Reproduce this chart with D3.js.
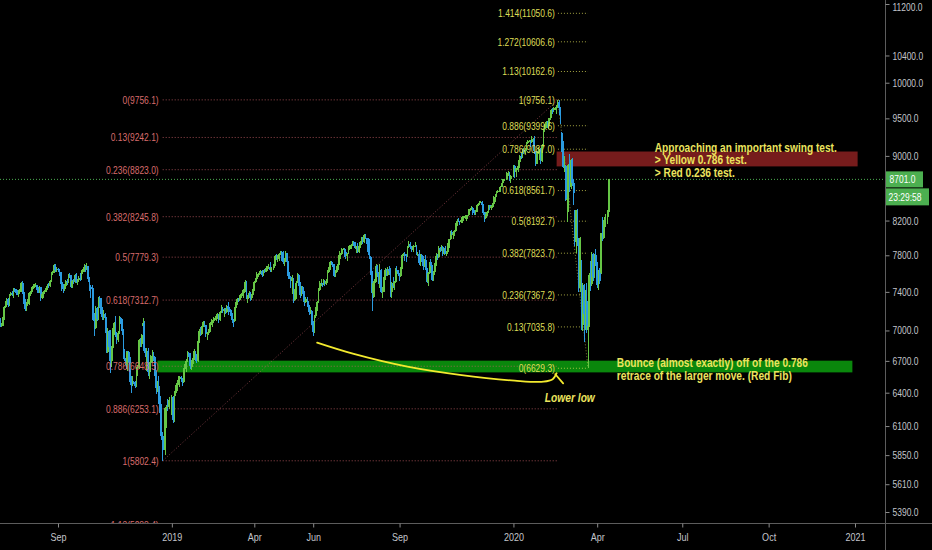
<!DOCTYPE html>
<html><head><meta charset="utf-8">
<script src="https://cdn.jsdelivr.net/npm/d3@7/dist/d3.min.js"></script>
<style>
html,body{margin:0;padding:0;background:#000;overflow:hidden}
svg{display:block}
text{font-family:'Liberation Sans',Arial,sans-serif}
</style></head><body>
<svg id="chart" width="932" height="550"></svg>
<script>
// ---------------- DATA ----------------
const firstDay = "2018-07-02";      // first weekday bar
const lastAxisDay = "2021-01-31";   // time axis extends into the future
// daily bars [open, high, low, close], one per weekday; null = market closed
const candles = [
// 2018-07
[7040,7100,7000,7090],[7090,7130,7040,7050],[7050,7080,7040,7070],[7070,7150,7050,7140],[7140,7250,7110,7240],
[7240,7300,7230,7290],[7290,7330,7280,7320],[7320,7330,7240,7260],[7260,7380,7250,7370],[7370,7400,7360,7390],
[7390,7410,7360,7380],[7380,7440,7330,7430],[7430,7440,7400,7420],[7420,7430,7370,7390],[7390,7420,7370,7380],
[7380,7420,7350,7410],[7410,7470,7400,7430],[7430,7510,7400,7500],[7500,7520,7380,7400],[7400,7420,7270,7300],
[7300,7320,7200,7220],[7220,7290,7200,7270],
// 2018-08
[7270,7320,7250,7300],[7300,7400,7260,7390],[7390,7410,7360,7400],
[7400,7450,7380,7440],[7440,7480,7430,7460],[7460,7480,7440,7460],[7460,7490,7450,7470],[7470,7470,7390,7420],
[7420,7450,7390,7400],[7400,7460,7390,7450],[7450,7450,7300,7330],[7330,7400,7320,7380],[7380,7410,7340,7400],
[7400,7420,7380,7410],[7410,7460,7400,7440],[7440,7480,7420,7470],[7470,7490,7440,7460],[7460,7530,7450,7520],
[7520,7610,7510,7600],[7600,7630,7580,7610],[7610,7700,7600,7690],[7690,7700,7620,7640],[7640,7670,7610,7650],
// 2018-09
[7650,7660,7630,7640],[7640,7650,7570,7610],[7610,7620,7480,7510],[7510,7530,7410,7450],[7450,7480,7390,7430],
[7430,7480,7410,7460],[7460,7530,7430,7520],[7520,7540,7470,7510],[7510,7590,7500,7580],[7580,7600,7550,7570],
[7570,7580,7440,7450],[7450,7530,7440,7520],[7520,7540,7480,7510],[7510,7590,7500,7580],[7580,7600,7490,7510],
[7510,7540,7470,7530],[7530,7570,7510,7550],[7550,7600,7520,7540],[7540,7640,7530,7620],[7620,7650,7590,7630],
// 2018-10
[7630,7700,7620,7670],[7670,7690,7610,7650],[7650,7710,7640,7680],[7680,7680,7510,7540],[7540,7560,7410,7450],
[7450,7470,7330,7440],[7440,7470,7400,7430],[7430,7440,7100,7110],[7110,7180,6940,7020],[7020,7250,7010,7230],
[7230,7240,7100,7120],[7120,7350,7110,7340],[7340,7360,7230,7320],[7320,7330,7140,7170],[7170,7240,7110,7130],
[7130,7210,7110,7170],[7170,7180,6970,7130],[7130,7140,6780,6790],[6790,7020,6780,6990],[6990,7000,6710,6840],
[6840,7000,6580,6700],[6700,6850,6640,6830],[6830,7020,6820,6990],
// 2018-11
[6990,7090,6950,7080],[7080,7150,6930,6960],
[6960,6980,6860,6900],[6900,6990,6880,6970],[6970,7150,6960,7130],[7130,7140,7070,7110],[7110,7120,6950,6990],
[6990,7010,6720,6730],[6730,6820,6700,6720],[6720,6800,6620,6660],[6660,6800,6600,6790],[6790,6800,6680,6740],
[6740,6760,6500,6510],[6510,6560,6400,6470],[6470,6560,6460,6500],[6500,6510,6480,6490],[6490,6510,6440,6460],
[6460,6640,6450,6630],[6630,6660,6560,6640],[6640,6910,6620,6900],[6900,6920,6840,6860],[6860,6960,6840,6950],
// 2018-12
[7050,7130,7010,7080],[7080,7100,6780,6800],[6800,6830,6740,6780],[6780,6830,6600,6800],[6800,6830,6560,6590],
[6590,6690,6530,6680],[6680,6760,6620,6690],[6690,6810,6680,6750],[6750,6790,6700,6740],[6740,6750,6560,6580],
[6580,6610,6390,6440],[6440,6510,6410,6460],[6460,6560,6300,6330],[6330,6370,6180,6220],[6220,6300,5980,6010],
[6010,6050,5802.4,5890],null,[5890,6270,5850,6260],[6260,6290,6080,6290],[6290,6340,6230,6270],
[6270,6360,6250,6330],
// 2019-01
null,[6330,6380,6200,6360],[6360,6370,6130,6150],[6150,6420,6140,6400],
[6400,6470,6370,6440],[6440,6520,6420,6490],[6490,6560,6470,6530],[6530,6560,6450,6550],[6550,6560,6500,6540],
[6540,6540,6460,6500],[6500,6630,6490,6620],[6620,6670,6610,6650],[6650,6720,6590,6700],[6700,6800,6690,6780],
[6780,6790,6740,6770],[6770,6780,6620,6650],[6650,6710,6610,6670],[6670,6730,6640,6720],[6720,6820,6710,6800],
[6800,6800,6700,6740],[6740,6770,6680,6700],[6700,6900,6690,6890],[6890,7010,6870,6990],
// 2019-02
[6990,7030,6940,6960],
[6960,7050,6950,7040],[7040,7100,7030,7090],[7090,7100,7040,7060],[7060,7060,6930,6960],[6960,6980,6900,6970],
[6970,7010,6950,6980],[6980,7080,6970,7070],[7070,7120,7060,7090],[7090,7110,7030,7100],[7100,7140,7080,7130],
[7130,7140,7110,7130],[7130,7170,7100,7150],[7150,7180,7120,7160],[7160,7170,7080,7110],[7110,7200,7100,7190],
[7190,7260,7180,7220],[7220,7240,7180,7210],[7210,7230,7140,7210],[7210,7230,7170,7190],
// 2019-03
[7190,7260,7180,7250],
[7250,7290,7160,7220],[7220,7240,7190,7210],[7210,7220,7150,7170],[7170,7180,7080,7110],[7110,7120,7040,7100],
[7100,7240,7090,7230],[7230,7290,7220,7270],[7270,7330,7260,7320],[7320,7340,7290,7310],[7310,7370,7300,7350],
[7350,7390,7330,7380],[7380,7420,7360,7390],[7390,7430,7340,7420],[7420,7530,7400,7510],[7510,7520,7320,7330],
[7330,7370,7280,7340],[7340,7410,7330,7390],[7390,7400,7300,7330],[7330,7380,7310,7370],[7370,7430,7360,7420],
// 2019-04
[7420,7520,7410,7510],[7510,7550,7500,7540],[7540,7610,7530,7590],[7590,7600,7560,7590],[7590,7630,7580,7620],
[7620,7640,7590,7630],[7630,7640,7560,7580],[7580,7640,7570,7630],[7630,7650,7600,7620],[7620,7680,7610,7660],
[7660,7680,7630,7660],[7660,7700,7650,7670],[7670,7720,7620,7640],[7640,7670,7620,7660],null,
[7660,7700,7640,7690],[7690,7800,7680,7790],[7790,7820,7750,7760],[7760,7800,7730,7780],[7780,7830,7740,7820],
[7820,7850,7800,7840],[7840,7850,7740,7780],
// 2019-05
[7780,7850,7700,7720],[7720,7770,7680,7730],[7730,7850,7720,7830],
[7830,7830,7600,7720],[7720,7740,7540,7570],[7570,7620,7540,7560],[7560,7570,7440,7520],[7520,7580,7380,7550],
[7550,7550,7280,7310],[7310,7430,7300,7400],[7400,7520,7320,7500],[7500,7600,7490,7580],[7580,7590,7460,7500],
[7500,7510,7340,7370],[7370,7460,7360,7450],[7450,7460,7380,7400],[7400,7410,7250,7290],[7290,7350,7280,7300],
[7300,7320,7290,7300],[7300,7350,7240,7250],[7250,7260,7160,7190],[7190,7240,7170,7200],[7200,7210,7060,7070],
// 2019-06
[7070,7100,6940,6980],[6980,7160,6970,7150],[7150,7240,7130,7230],[7230,7300,7200,7290],[7290,7440,7280,7420],
[7420,7520,7410,7480],[7480,7540,7460,7490],[7490,7500,7450,7480],[7480,7540,7470,7520],[7520,7530,7460,7480],
[7480,7540,7470,7520],[7520,7640,7500,7620],[7620,7670,7600,7650],[7650,7740,7640,7720],[7720,7740,7690,7700],
[7700,7720,7670,7690],[7690,7700,7560,7570],[7570,7640,7560,7610],[7610,7680,7600,7660],[7660,7710,7640,7700],
// 2019-07
[7700,7850,7690,7800],[7800,7830,7760,7820],[7820,7880,7810,7870],[7870,7880,7860,7870],[7870,7880,7780,7840],
[7840,7850,7760,7790],[7790,7830,7740,7820],[7820,7900,7810,7880],[7880,7920,7860,7880],[7880,7930,7870,7920],
[7920,7960,7900,7950],[7950,7960,7910,7930],[7930,7950,7870,7880],[7880,7910,7830,7900],[7900,7940,7830,7840],
[7840,7910,7830,7900],[7900,7960,7880,7950],[7950,8010,7920,8000],[8000,8010,7930,7950],[7950,8040,7940,8030],
[8030,8040,7980,8000],[8000,8000,7930,7960],[7960,8000,7800,7840],
// 2019-08
[7840,7980,7760,7780],[7780,7790,7580,7620],
[7620,7630,7200,7390],[7390,7520,7340,7500],[7500,7540,7350,7520],[7520,7700,7510,7680],[7680,7690,7560,7600],
[7600,7620,7480,7500],[7500,7700,7440,7640],[7640,7650,7390,7400],[7400,7450,7340,7400],[7400,7560,7400,7540],
[7540,7660,7530,7640],[7640,7650,7570,7580],[7580,7670,7570,7650],[7650,7680,7580,7630],[7630,7660,7350,7400],
[7400,7510,7340,7500],[7500,7560,7440,7460],[7460,7520,7420,7510],[7510,7660,7500,7640],[7640,7680,7610,7630],
// 2019-09
[7630,7640,7570,7590],[7590,7600,7520,7570],[7570,7670,7560,7660],[7660,7820,7650,7800],[7800,7830,7790,7820],
[7820,7840,7740,7800],[7800,7810,7720,7790],[7790,7910,7780,7900],[7900,7960,7880,7930],[7930,7950,7870,7890],
[7890,7900,7840,7870],[7870,7910,7860,7900],[7900,7920,7840,7900],[7900,7950,7890,7900],[7900,7920,7800,7810],
[7810,7840,7790,7820],[7820,7860,7690,7710],[7710,7810,7680,7800],[7800,7810,7730,7760],[7760,7790,7640,7680],
[7680,7760,7670,7750],
// 2019-10
[7750,7800,7640,7650],[7650,7660,7500,7510],[7510,7610,7460,7600],[7600,7730,7590,7720],
[7720,7760,7670,7680],[7680,7690,7520,7530],[7530,7630,7520,7620],[7620,7710,7580,7690],[7690,7830,7680,7790],
[7790,7810,7750,7780],[7780,7900,7770,7880],[7880,7890,7840,7860],[7860,7920,7850,7890],[7890,7910,7790,7810],
[7810,7880,7800,7870],[7870,7900,7810,7820],[7820,7850,7790,7840],[7840,7940,7830,7920],[7920,7990,7880,7980],
[7980,8080,7970,8070],[8070,8090,8010,8030],[8030,8080,7990,8060],[8060,8090,8020,8080],
// 2019-11
[8080,8170,8070,8150],
[8150,8220,8140,8200],[8200,8230,8180,8190],[8190,8200,8150,8180],[8180,8240,8170,8210],[8210,8250,8170,8240],
[8240,8250,8200,8240],[8240,8270,8220,8250],[8250,8260,8200,8250],[8250,8270,8220,8260],[8260,8340,8250,8330],
[8330,8350,8310,8340],[8340,8370,8320,8350],[8350,8360,8260,8310],[8310,8330,8270,8290],[8290,8320,8270,8300],
[8300,8390,8300,8380],[8380,8410,8370,8400],[8400,8440,8390,8420],[8420,8430,8410,8420],[8420,8430,8370,8380],
// 2019-12
[8380,8400,8270,8290],[8290,8300,8180,8230],[8230,8300,8220,8280],[8280,8310,8250,8300],[8300,8390,8290,8380],
[8380,8390,8330,8350],[8350,8390,8320,8370],[8370,8410,8350,8400],[8400,8490,8360,8470],[8470,8520,8420,8480],
[8480,8560,8480,8550],[8550,8570,8530,8560],[8560,8580,8540,8560],[8560,8620,8550,8610],[8610,8660,8600,8650],
[8650,8700,8640,8690],[8690,8710,8680,8700],null,[8700,8790,8690,8780],[8780,8810,8740,8780],
[8780,8790,8680,8700],[8700,8750,8660,8740],
// 2020-01
null,[8740,8880,8730,8870],[8870,8880,8720,8790],
[8790,8850,8730,8840],[8840,8870,8820,8840],[8840,8950,8790,8920],[8920,9010,8910,9000],[9000,9040,8960,8980],
[8980,9090,8970,9080],[9080,9100,9030,9050],[9050,9100,9030,9070],[9070,9180,9060,9170],[9170,9210,9150,9200],
[9200,9210,9180,9200],[9200,9210,9120,9180],[9180,9260,9170,9190],[9190,9230,9120,9220],[9220,9260,9030,9070],
[9070,9070,8870,8900],[8900,9060,8890,9050],[9050,9110,9030,9060],[9060,9090,8950,9080],[9080,9100,8890,8930],
// 2020-02
[8930,9150,8920,9130],[9130,9360,9120,9350],[9350,9420,9310,9390],[9390,9460,9370,9450],[9450,9460,9370,9390],
[9390,9500,9360,9490],[9490,9570,9480,9510],[9510,9630,9500,9620],[9620,9640,9560,9610],[9610,9650,9590,9630],
[9630,9650,9610,9640],[9640,9680,9560,9660],[9660,9756.1,9650,9730],[9730,9750,9540,9640],[9640,9650,9420,9460],
[9300,9310,9050,9110],[9110,9190,8840,8860],[8860,9000,8800,8870],[8870,8880,8440,8450],[8450,8560,8180,8460],
// 2020-03
[8460,8890,8300,8880],[8880,9030,8550,8600],[8600,8960,8580,8950],[8950,8970,8620,8660],[8660,8700,8390,8530],
[8200,8330,7900,7950],[7950,8330,7830,8320],[8320,8340,7900,7960],[7960,8000,7400,7440],[7440,8010,7400,8000],
[7700,7750,7000,7060],[7060,7500,6990,7470],[7470,7480,6880,7170],[7170,7420,7000,7300],[7300,7500,6970,7000],
[7000,7180,6629.3,7050],[7050,7600,7040,7580],[7580,7740,7410,7480],[7480,7840,7460,7820],[7820,7830,7520,7560],
[7560,7820,7550,7800],[7800,7870,7680,7720],
// 2020-04
[7720,7730,7440,7470],[7470,7640,7420,7620],[7620,7660,7480,7520],
[7600,8060,7590,8050],[8050,8240,7960,8000],[8000,8210,7990,8200],[8200,8280,8130,8240],null,
[8240,8330,8160,8300],[8300,8710,8290,8701]
];
const priceTicks = [11200,10400,10000,9500,9000,8200,7800,7400,7000,6700,6400,6100,5850,5610,5390];
const dateTicks = [["2018-09-03","Sep"],["2019-01-02","2019"],["2019-04-01","Apr"],["2019-06-03","Jun"],["2019-09-03","Sep"],
                   ["2020-01-02","2020"],["2020-04-01","Apr"],["2020-07-01","Jul"],["2020-10-01","Oct"],["2021-01-01","2021"]];
// Fibonacci retracement (red): swing low -> swing high
const fibRedAnchors = [["2018-12-24",5802.4],["2020-02-19",9756.1]];
const fibRedLevels = [["0",9756.1],["0.13",9242.1],["0.236",8823.0],["0.382",8245.8],["0.5",7779.3],
                      ["0.618",7312.7],["0.786",6648.5],["0.886",6253.1],["1",5802.4],["1.13",5288.4]];
// Fibonacci retracement (yellow): swing high -> crash low
const fibYellowAnchors = [["2020-02-19",9756.1],["2020-03-23",6629.3]];
const fibYellowLevels = [["0",6629.3],["0.13",7035.8],["0.236",7367.2],["0.382",7823.7],["0.5",8192.7],["0.618",8561.7],
                         ["0.786",9087.0],["0.886",9399.6],["1",9756.1],["1.13",10162.6],["1.272",10606.6],["1.414",11050.6]];
// highlighted zones [fromDate, toDate, lowPrice, highPrice]
const greenZone = ["2018-12-18","2020-12-30",6590,6702];
const redZone = ["2020-02-18","2021-01-05",8865,9057];
const lastPrice = 8701.0;
const countdown = "23:29:58";
// hand-drawn "lower low" curve and arrow head [date, price]
const lowerLowCurve = [["2019-06-06",6878],["2019-07-16",6767],["2019-09-11",6644],["2019-11-06",6566],
                       ["2020-01-03",6512],["2020-02-04",6502],["2020-02-13",6525],["2020-02-18",6582]];
const lowerLowArrow = [["2020-02-17",6572],["2020-02-25",6487]];
const swingNote = ["Approaching an important swing test.","> Yellow 0.786 test.","> Red 0.236 test."];
const bounceNote = ["Bounce (almost exactly) off of the 0.786","retrace of the larger move. (Red Fib)"];
const lowNote = "Lower low";

// ---------------- LAYOUT ----------------
const W = 932, H = 550, axisX = 885.5, axisY = 523.5;
const upCol = "#66c646", downCol = "#2b9be0";
const redCol = "#d86c6c", yelCol = "#dedd57", noteCol = "#ece45e";
const NARROW = 0.77;   // condensed look for the small chart texts

function narrow(sel, f) {
  sel.each(function () {
    const w = this.getComputedTextLength();
    d3.select(this).attr("textLength", w * (f || NARROW)).attr("lengthAdjust", "spacingAndGlyphs");
  });
}

const parse = d3.utcParse("%Y-%m-%d");
const days = d3.utcDay.range(parse(firstDay), parse(lastAxisDay)).filter(d => { const w = d.getUTCDay(); return w > 0 && w < 6; });
const dayIndex = new Map(days.map((d, i) => [+d, i]));
const ix = s => dayIndex.get(+parse(s));

const x = d3.scaleLinear().domain([ix("2018-09-03"), ix("2021-01-01")]).range([58, 855]);
const y = d3.scaleLog().domain([5390, 11200]).range([512, 4]);
const px = s => x(ix(s));

const svg = d3.select("#chart");
svg.append("rect").attr("width", W).attr("height", H).attr("fill", "#000");
svg.append("defs").append("clipPath").attr("id", "plotClip")
  .append("rect").attr("x", 0).attr("y", 0).attr("width", axisX).attr("height", axisY);
const plot = svg.append("g").attr("clip-path", "url(#plotClip)");

// zones
function zone(z, fill) {
  plot.append("rect").attr("x", px(z[0])).attr("width", px(z[1]) - px(z[0]))
    .attr("y", y(z[3])).attr("height", y(z[2]) - y(z[3])).attr("fill", fill);
}
zone(greenZone, "#0a870c");
zone(redZone, "#761c1c");

// fib lines
function fib(anchors, levels, col, labelGap) {
  const x0 = px(anchors[0][0]), x1 = px(anchors[1][0]);
  const gL = plot.append("g");
  gL.selectAll("line").data(levels).join("line")
    .attr("x1", Math.min(x0, x1)).attr("x2", Math.max(x0, x1))
    .attr("y1", d => y(d[1])).attr("y2", d => y(d[1]))
    .attr("stroke", col).attr("stroke-opacity", 0.75).attr("stroke-width", 1).attr("stroke-dasharray", "1,2");
  plot.append("line").attr("x1", x0).attr("y1", y(anchors[0][1])).attr("x2", x1).attr("y2", y(anchors[1][1]))
    .attr("stroke", col).attr("stroke-opacity", 0.6).attr("stroke-dasharray", "1,2");
  return { xl: Math.min(x0, x1) - labelGap, levels };
}
const fr = fib(fibRedAnchors, fibRedLevels, "#c9606a", 4);
const fy = fib(fibYellowAnchors, fibYellowLevels, "#d8d855", 3);

// last price line
plot.append("line").attr("x1", 0).attr("x2", axisX).attr("y1", y(lastPrice)).attr("y2", y(lastPrice))
  .attr("stroke", "#4caf50").attr("stroke-dasharray", "1,2");

// candles
const bars = candles.map((c, i) => c && { i, o: c[0], h: c[1], l: c[2], c: c[3] }).filter(Boolean);
const cg = plot.append("g").attr("shape-rendering", "crispEdges");
cg.selectAll("line").data(bars).join("line")
  .attr("x1", d => x(d.i)).attr("x2", d => x(d.i))
  .attr("y1", d => y(d.h)).attr("y2", d => y(d.l))
  .attr("stroke", d => d.c >= d.o ? upCol : downCol).attr("stroke-width", 1);
cg.selectAll("rect").data(bars).join("rect")
  .attr("x", d => x(d.i) - 0.9).attr("width", 1.8)
  .attr("y", d => y(Math.max(d.o, d.c)))
  .attr("height", d => Math.max(1, Math.abs(y(d.o) - y(d.c))))
  .attr("fill", d => d.c >= d.o ? upCol : downCol);

// fib labels
function fibLabels(f, color) {
  plot.append("g").selectAll("text").data(f.levels).join("text")
    .attr("x", f.xl).attr("y", d => y(d[1])).attr("dy", "0.35em")
    .attr("text-anchor", "end").attr("font-size", 11).attr("fill", color)
    .text(d => `${d[0]}(${d[1].toFixed(1)})`)
    .call(narrow);
}
fibLabels(fr, redCol);
fibLabels(fy, yelCol);

// hand-drawn curve
const curve = d3.line().x(d => px(d[0])).y(d => y(d[1])).curve(d3.curveCatmullRom);
plot.append("path").attr("d", curve(lowerLowCurve)).attr("fill", "none")
  .attr("stroke", "#f3ea2e").attr("stroke-width", 1.8).attr("stroke-linecap", "round");
plot.append("path").attr("d", d3.line().x(d => px(d[0])).y(d => y(d[1]))(lowerLowArrow)).attr("fill", "none")
  .attr("stroke", "#f3ea2e").attr("stroke-width", 1.8).attr("stroke-linecap", "round");

// notes
function note(lines, date, price, step, widths, italic) {
  const t = plot.append("g");
  lines.forEach((s, k) => {
    t.append("text").attr("x", px(date)).attr("y", y(price) + k * step).attr("dy", "0.35em")
      .attr("font-size", 12).attr("font-weight", "bold").attr("font-style", italic ? "italic" : "normal")
      .attr("fill", noteCol).attr("textLength", widths[k]).attr("lengthAdjust", "spacingAndGlyphs").text(s);
  });
}
note(swingNote, "2020-06-02", 9107, 12.5, [182, 92, 80], false);
note(bounceNote, "2020-04-22", 6677, 12.7, [191, 175], false);
note([lowNote], "2020-02-05", 6354, 0, [50], true);

// axes frame
svg.append("line").attr("x1", axisX).attr("x2", axisX).attr("y1", 0).attr("y2", H).attr("stroke", "#5c5c5c");
svg.append("line").attr("x1", 0).attr("x2", W).attr("y1", axisY).attr("y2", axisY).attr("stroke", "#5c5c5c");

const yAxis = d3.axisRight(y).tickValues(priceTicks).tickFormat(d => d.toFixed(1)).tickSize(4).tickPadding(3);
const ya = svg.append("g").attr("transform", `translate(${axisX},0)`).call(yAxis);
ya.select(".domain").remove();
ya.selectAll(".tick line").attr("stroke", "#8a8a8a");
ya.selectAll(".tick text").attr("fill", "#c3c5cb").attr("font-size", 11).attr("font-family", null)
  .attr("dy", d => d === priceTicks[0] ? "0.62em" : "0.32em").call(narrow);

const xAxis = d3.axisBottom(x).tickValues(dateTicks.map(d => ix(d[0])))
  .tickFormat((d, k) => dateTicks[k][1]).tickSize(4).tickPadding(6);
const xa = svg.append("g").attr("transform", `translate(0,${axisY})`).call(xAxis);
xa.select(".domain").remove();
xa.selectAll(".tick line").attr("stroke", "#8a8a8a");
xa.selectAll(".tick text").attr("fill", "#c3c5cb").attr("font-size", 11).attr("font-family", null).call(narrow, 0.82);

// last price + countdown labels
const ly = y(lastPrice);
svg.append("rect").attr("x", axisX + 0.5).attr("y", ly - 8).attr("width", 37).attr("height", 16).attr("fill", "#4caf50");
svg.append("text").attr("x", axisX + 4).attr("y", ly).attr("dy", "0.35em").attr("font-size", 11).attr("fill", "#fff")
  .text(lastPrice.toFixed(1)).call(narrow);
svg.append("rect").attr("x", axisX + 0.5).attr("y", ly + 9).attr("width", 43).attr("height", 17).attr("fill", "#4caf50");
svg.append("text").attr("x", axisX + 3).attr("y", ly + 17.5).attr("dy", "0.35em").attr("font-size", 11).attr("fill", "#fff")
  .text(countdown).call(narrow);
</script>
</body></html>
